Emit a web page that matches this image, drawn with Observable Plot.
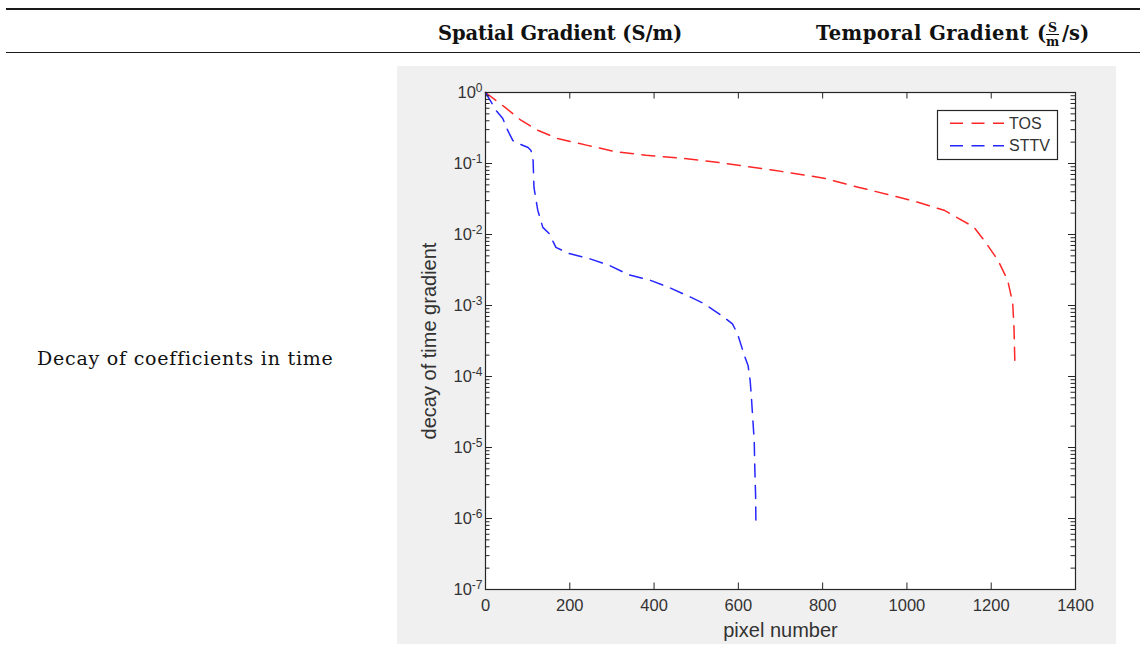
<!DOCTYPE html>
<html><head><meta charset="utf-8">
<script src="https://cdn.jsdelivr.net/npm/d3@7"></script>
<script src="https://cdn.jsdelivr.net/npm/@observablehq/plot@0.6"></script>
<style>
body{margin:0;background:#fff;}
#page{position:relative;width:1140px;height:660px;overflow:hidden;background:#fff;}
.rule{position:absolute;left:6px;right:0;background:#1a1a1a;}
.serif{position:absolute;font-family:"DejaVu Serif",serif;color:#111;white-space:nowrap;line-height:1;}
.bold{font-weight:bold;}
.frac{position:absolute;font-family:"DejaVu Serif",serif;font-weight:bold;color:#111;font-size:12.5px;line-height:1.05;text-align:center;}
.frac .num{display:block;border-bottom:1.3px solid #111;padding:0 1px;}
.frac .den{display:block;}
#chart{position:absolute;left:397px;top:66px;}
</style></head><body>
<div id="page">
  <div class="rule" style="top:8px;height:2px"></div>
  <div class="rule" style="top:52px;height:1px"></div>
  <div class="serif bold fit" data-w="244" style="left:438px;top:24px;font-size:19.5px">Spatial Gradient (S/m)</div>
  <div class="serif bold fit" data-w="213" style="left:816px;top:24px;font-size:19.5px">Temporal Gradient</div>
  <div class="serif bold" style="left:1037px;top:24px;font-size:19.5px">(</div>
  <div class="frac" style="left:1046px;top:21px"><span class="num">S</span><span class="den">m</span></div>
  <div class="serif bold" style="left:1062px;top:24px;font-size:19.5px">/s)</div>
  <div class="serif fit" data-w="296" style="left:37px;top:349px;font-size:19px">Decay of coefficients in time</div>
  <div id="chart"></div>
</div>
<script>
// ---- data ----
const seriesNames = ["TOS", "STTV"];
const seriesColors = ["#ff0000", "#0000ff"];
const tosX = [0, 45, 84, 124, 171, 242, 310, 381, 488, 566, 684, 803, 884, 962, 1026, 1088, 1159, 1183, 1216, 1239, 1251, 1254, 1256];
const tosY = [1, 0.627, 0.407, 0.294, 0.225, 0.18, 0.146, 0.131, 0.115, 0.101, 0.0805, 0.0621, 0.0464, 0.0357, 0.0285, 0.022, 0.0127, 0.0083, 0.00435, 0.00227, 0.00108, 0.000494, 0.00017];
const sttvX = [0, 25, 41, 53, 65, 79, 101, 108, 113, 115, 124, 136, 151, 167, 198, 245, 293, 340, 388, 435, 488, 519, 566, 586, 598, 614, 623, 628, 631, 634.5, 637.6, 639, 641, 641.7];
const sttvY = [1, 0.56, 0.43, 0.29, 0.21, 0.19, 0.168, 0.152, 0.11, 0.046, 0.022, 0.0126, 0.0103, 0.0066, 0.0054, 0.0046, 0.0037, 0.0027, 0.0023, 0.0018, 0.0013, 0.00106, 0.00068, 0.00055, 0.0004, 0.0002, 0.000143, 0.000088, 0.000051, 0.000024, 0.0000126, 0.0000053, 0.000002, 0.00000076];
const xTicks = [0, 200, 400, 600, 800, 1000, 1200, 1400];
const yTickExps = [-7, -6, -5, -4, -3, -2, -1, 0];
const xLabel = "pixel number";
const yLabel = "decay of time gradient";

// ---- tables ----
const rows = [
  ...tosX.map((x, i) => ({series: seriesNames[0], x, y: tosY[i]})),
  ...sttvX.map((x, i) => ({series: seriesNames[1], x, y: sttvY[i]}))
];
const yTicks = yTickExps.map(e => Math.pow(10, e));
const yMinor = [];
yTickExps.slice(0, -1).forEach(e => { for (let m = 2; m <= 9; m++) yMinor.push(m * Math.pow(10, e)); });

// ---- layout ----
const W = 719, H = 578, mL = 88, mT = 26, mR = 41, mB = 55;
const innerW = W - mL - mR, innerH = H - mT - mB;
const axisColor = "#262626";
const major = 7, minor = 4.5, xMajor = 6.5;

const chart = Plot.plot({
  width: W, height: H,
  marginLeft: mL, marginTop: mT, marginRight: mR, marginBottom: mB,
  style: {background: "#f0f0f0", fontFamily: "'Liberation Sans', Arial, sans-serif", fontSize: "16.5px", color: "#333", overflow: "visible"},
  x: {domain: [0, 1400], ticks: xTicks, tickSize: 0, tickPadding: 10, label: null, tickFormat: d => String(d)},
  y: {type: "log", domain: [1e-7, 1], ticks: yTicks, tickSize: 0, tickPadding: 3, label: null,
      tickFormat: d => "10^" + Math.round(Math.log10(d))},
  color: {domain: seriesNames, range: seriesColors},
  marks: [
    Plot.frame({fill: "white", stroke: "none"}),
    Plot.line(rows, {x: "x", y: "y", z: "series", stroke: "series", strokeWidth: 1.5, strokeOpacity: 0.85, strokeDasharray: "13,8.5"}),
    Plot.frame({stroke: axisColor, strokeWidth: 1.2}),
    Plot.tickY(yTicks, {y: d => d, insetRight: innerW - major, stroke: axisColor}),
    Plot.tickY(yTicks, {y: d => d, insetLeft: innerW - major, stroke: axisColor}),
    Plot.tickY(yMinor, {y: d => d, insetRight: innerW - minor, stroke: axisColor}),
    Plot.tickY(yMinor, {y: d => d, insetLeft: innerW - minor, stroke: axisColor}),
    Plot.tickX(xTicks, {x: d => d, insetTop: innerH - xMajor, stroke: axisColor}),
    Plot.tickX(xTicks, {x: d => d, insetBottom: innerH - xMajor, stroke: axisColor}),
    Plot.text([xLabel], {frameAnchor: "bottom", dy: 41, textAnchor: "middle", lineAnchor: "middle", fontSize: 20, fill: "#333"}),
    Plot.text([yLabel], {frameAnchor: "left", dx: -56, rotate: -90, textAnchor: "middle", lineAnchor: "middle", fontSize: 20, fill: "#333"})
  ]
});
document.getElementById("chart").appendChild(chart);

// superscript exponents on the log axis labels
d3.select(chart).selectAll("text").each(function() {
  const t = this.textContent;
  if (this.childElementCount === 0 && /^10\^-?\d+$/.test(t)) {
    const exp = t.split("^")[1];
    const sel = d3.select(this);
    sel.text(null);
    sel.append("tspan").text("10");
    sel.append("tspan").attr("dy", "-0.5em").attr("font-size", "12px").text(exp);
  }
});

// legend box
const svg = d3.select(chart);
const lg = svg.append("g").attr("font-family", "'Liberation Sans', Arial, sans-serif").attr("font-size", 16).attr("text-anchor", "start");
lg.append("rect").attr("x", 540.5).attr("y", 44.5).attr("width", 120).attr("height", 49)
  .attr("fill", "white").attr("stroke", axisColor).attr("stroke-width", 1.2);
seriesNames.forEach((name, i) => {
  const yy = 57.3 + i * 22.4;
  lg.append("line").attr("x1", 553).attr("x2", 607).attr("y1", yy).attr("y2", yy)
    .attr("stroke", seriesColors[i]).attr("stroke-width", 1.5).attr("stroke-opacity", 0.85).attr("stroke-dasharray", "13,8.5");
  lg.append("text").attr("x", 612).attr("y", yy).attr("dy", "0.35em").attr("text-anchor", "start").attr("fill", "#333").text(name);
});

// fit text widths to reference
document.querySelectorAll(".fit").forEach(el => {
  const target = +el.dataset.w;
  const w = el.getBoundingClientRect().width;
  const n = el.textContent.length;
  el.style.letterSpacing = ((target - w) / n) + "px";
});
</script>
</body></html>
